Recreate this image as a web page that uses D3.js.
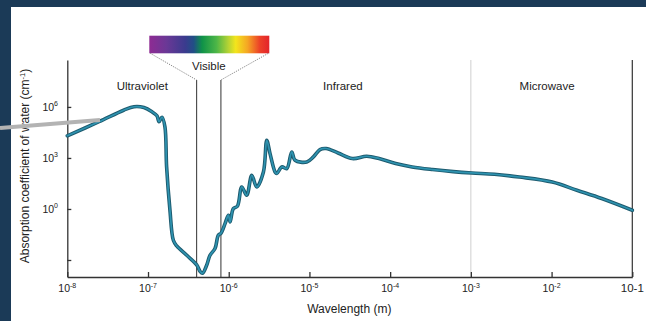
<!DOCTYPE html>
<html>
<head>
<meta charset="utf-8">
<script src="https://cdn.jsdelivr.net/npm/d3@7"></script>
<style>
  html, body { margin: 0; padding: 0; background: #fff; }
  svg { display: block; font-family: "Liberation Sans", Arial, Helvetica, sans-serif; }
</style>
</head>
<body>
<svg id="chart" width="646" height="321"></svg>
<script>
// ---- data ----
const wavelength = [1.0e-8, 2.47e-8, 4.99e-8, 6.7e-8, 8.9e-8, 1.12e-7, 1.29e-7, 1.37e-7, 1.49e-7, 1.62e-7,
  1.70e-7, 1.87e-7, 2.06e-7, 2.27e-7, 3.02e-7, 4.01e-7, 4.41e-7, 4.73e-7, 5.33e-7, 5.86e-7,
  6.76e-7, 7.43e-7, 8.0e-7, 9.0e-7, 9.9e-7, 1.04e-6, 1.14e-6, 1.28e-6, 1.45e-6, 1.67e-6,
  1.93e-6, 2.22e-6, 2.69e-6, 2.96e-6, 3.25e-6, 3.75e-6, 3.94e-6, 4.54e-6, 5.24e-6, 6.04e-6,
  6.64e-6, 9.27e-6, 1.12e-5, 1.35e-5, 1.61e-5, 2.26e-5, 3.40e-5, 5.13e-5, 7.28e-5, 1.17e-4,
  1.87e-4, 3.36e-4, 6.05e-4, 1.03e-3, 1.96e-3, 3.98e-3, 1.02e-2, 2.06e-2, 4.18e-2, 1.0e-1];
const absorption = [2.0e4, 1.35e5, 6.4e5, 1.03e6, 9.2e5, 5.2e5, 3.0e5, 1.35e5, 2.5e5, 6.8e4,
  296, 0.84, 0.0144, 0.00667, 0.00189, 5.2e-4, 2.16e-4, 1.65e-4, 4.9e-4, 1.89e-3,
  4.7e-3, 0.0284, 0.037, 0.138, 0.43, 0.17, 1.06, 1.44, 19.7, 6.4,
  96, 19.7, 150, 1.1e4, 1.8e3, 150, 121, 296, 238, 2.25e3,
  733, 582, 1.15e3, 3.1e3, 3.6e3, 1.97e3, 923, 1.26e3, 923, 469,
  296, 208, 158, 131, 110, 76, 38.7, 12.6, 4.1, 0.84];

const xTickValues = [1e-8, 1e-7, 1e-6, 1e-5, 1e-4, 1e-3, 1e-2, 1e-1];
const xTickExponents = ["-8", "-7", "-6", "-5", "-4", "-3", "-2", null];
const yTickValues = [1e-3, 1e0, 1e3, 1e6];
const yTickExponents = [null, "0", "3", "6"];

const regionNames = ["Ultraviolet", "Infrared", "Microwave"];
const regionCenters = [8.5e-8, 2.6e-5, 8.8e-3];
const visibleBounds = [4.0e-7, 8.0e-7];
const microwaveBound = 1e-3;

const spectrumStops = [
  [0, "#8e2b93"], [0.14, "#6b3896"], [0.3, "#3a3b8e"], [0.37, "#214f86"],
  [0.44, "#0f9248"], [0.56, "#4db647"], [0.66, "#b6d334"], [0.72, "#f3e51c"],
  [0.82, "#f5a524"], [0.92, "#ec4128"], [1, "#e3242b"]
];

(function () {
// ---- layout ----
const svg = d3.select("#chart");
const W = 646, H = 321;
const pLeft = 67.3, pRight = 632.3, pTop = 60, pBottom = 277;

const x = d3.scaleLog().domain([1e-8, 1e-1]).range([pLeft, pRight]);
const y = d3.scaleLog().domain([1e-4, Math.pow(10, 8.76)]).range([pBottom, pTop]);

// background frame (dark border)
svg.append("rect").attr("x", 0).attr("y", 0).attr("width", W).attr("height", H).attr("fill", "#1b3a57");
svg.append("rect").attr("x", 11).attr("y", 7).attr("width", W - 11).attr("height", H - 7).attr("fill", "#ffffff");

// microwave boundary (light gray)
svg.append("line")
  .attr("x1", x(microwaveBound)).attr("x2", x(microwaveBound))
  .attr("y1", pTop).attr("y2", pBottom)
  .attr("stroke", "#cfcfcf").attr("stroke-width", 1);

// visible boundaries
visibleBounds.forEach(v => {
  svg.append("line")
    .attr("x1", x(v)).attr("x2", x(v))
    .attr("y1", 80).attr("y2", pBottom)
    .attr("stroke", "#444").attr("stroke-width", 1.1);
});

// spectrum bar
const defs = svg.append("defs");
const grad = defs.append("linearGradient").attr("id", "spec").attr("x1", "0").attr("x2", "1").attr("y1", "0").attr("y2", "0");
spectrumStops.forEach(s => grad.append("stop").attr("offset", s[0]).attr("stop-color", s[1]));
const barX0 = 149.3, barX1 = 269.3, barY0 = 35.7, barY1 = 53.3;
svg.append("rect").attr("x", barX0).attr("y", barY0).attr("width", barX1 - barX0).attr("height", barY1 - barY0)
  .attr("fill", "url(#spec)");
// dotted connectors
svg.append("line").attr("x1", barX0 + 1).attr("y1", barY1).attr("x2", x(visibleBounds[0])).attr("y2", 80)
  .attr("stroke", "#777").attr("stroke-width", 0.9).attr("stroke-dasharray", "1.2,1.2");
svg.append("line").attr("x1", barX1 - 1).attr("y1", barY1).attr("x2", x(visibleBounds[1])).attr("y2", 80)
  .attr("stroke", "#777").attr("stroke-width", 0.9).attr("stroke-dasharray", "1.2,1.2");
svg.append("text").attr("x", (x(visibleBounds[0]) + x(visibleBounds[1])) / 2).attr("y", 70)
  .attr("text-anchor", "middle").attr("font-size", 11.5).attr("fill", "#222").text("Visible");

// region labels
regionNames.forEach((n, i) => {
  svg.append("text").attr("x", x(regionCenters[i])).attr("y", 90)
    .attr("text-anchor", "middle").attr("font-size", 11.5).attr("fill", "#222").text(n);
});

// right frame line
svg.append("line").attr("x1", pRight).attr("x2", pRight).attr("y1", pTop).attr("y2", pBottom)
  .attr("stroke", "#333").attr("stroke-width", 1.2);

// axes
const xAxis = d3.axisBottom(x).tickValues(xTickValues).tickSizeInner(-5).tickSizeOuter(0).tickFormat(() => "");
const gx = svg.append("g").attr("transform", `translate(0,${pBottom})`).call(xAxis);
const yAxis = d3.axisLeft(y).tickValues(yTickValues).tickSizeInner(-4).tickSizeOuter(0).tickFormat(() => "");
const gy = svg.append("g").attr("transform", `translate(${pLeft},0)`).call(yAxis);
[gx, gy].forEach(g => {
  g.select(".domain").attr("stroke", "#333").attr("stroke-width", 1.3);
  g.selectAll(".tick line").attr("stroke", "#333").attr("stroke-width", 1.3);
});

// x tick labels
xTickValues.forEach((v, i) => {
  const t = svg.append("text").attr("x", x(v)).attr("y", 292).attr("text-anchor", "middle").attr("fill", "#222");
  if (xTickExponents[i] === null) {
    t.attr("font-size", 11.5).text("10-1");
  } else {
    t.attr("font-size", 10.5);
    t.append("tspan").text("10");
    t.append("tspan").attr("font-size", 7).attr("dy", -4.5).text(xTickExponents[i]);
  }
});
// y tick labels
yTickValues.forEach((v, i) => {
  if (yTickExponents[i] === null) return;
  const t = svg.append("text").attr("x", 58).attr("y", y(v) + 4).attr("text-anchor", "end")
    .attr("font-size", 10.5).attr("fill", "#222");
  t.append("tspan").text("10");
  t.append("tspan").attr("font-size", 7).attr("dy", -4.5).text(yTickExponents[i]);
});

// axis titles
svg.append("text").attr("x", (pLeft + pRight) / 2 - 0.5).attr("y", 313).attr("text-anchor", "middle")
  .attr("font-size", 12).attr("fill", "#222").text("Wavelength (m)");
const yt = svg.append("text").attr("transform", "translate(29,166) rotate(-90)").attr("text-anchor", "middle")
  .attr("font-size", 12).attr("fill", "#222");
yt.append("tspan").text("Absorption coefficient of water (cm");
yt.append("tspan").attr("font-size", 7.5).attr("dy", -4).text("-1");
yt.append("tspan").attr("dy", 4).text(")");

// curve
const pts = wavelength.map((w, i) => [w, absorption[i]]);
const line = d3.line().x(d => x(d[0])).y(d => y(d[1])).curve(d3.curveCatmullRom.alpha(0.5));
svg.append("path").datum(pts).attr("d", line).attr("fill", "none")
  .attr("stroke", "#1d5a6e").attr("stroke-width", 3.6).attr("stroke-linejoin", "round").attr("stroke-linecap", "round");
svg.append("path").datum(pts).attr("d", line).attr("fill", "none")
  .attr("stroke", "#2e93b0").attr("stroke-width", 1.7).attr("stroke-linejoin", "round").attr("stroke-linecap", "round");

// gray pointer line overlay
svg.append("line").attr("x1", 0).attr("y1", 128).attr("x2", 100).attr("y2", 120)
  .attr("stroke", "#b3b3b3").attr("stroke-width", 4);
})();
</script>
</body>
</html>
